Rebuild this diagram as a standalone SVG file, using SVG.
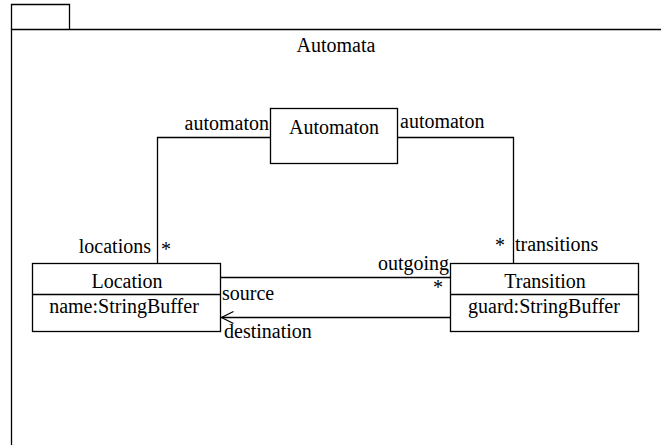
<svg xmlns="http://www.w3.org/2000/svg" width="661" height="445" viewBox="0 0 661 445">
<style>
.m{text-anchor:middle}
.e{text-anchor:end}
.box{fill:#fff;stroke:#000;stroke-width:1.3}
.ln{fill:none;stroke:#000;stroke-width:1.3}
</style>
<defs>
<marker id="open" viewBox="0 0 14 14" refX="13" refY="7" markerWidth="14" markerHeight="14" markerUnits="userSpaceOnUse" orient="auto" overflow="visible">
<path d="M1,1 L13,7 L1,13" fill="none" stroke="#000" stroke-width="1.3"/>
</marker>
</defs>
<g id="package">
<path class="ln" d="M11.5,29.5 V4.5 H69.5 V29.5"/>
<path class="ln" d="M11.5,445 V29.5 H661"/>
<text class="m" font-family="'Liberation Serif', serif" font-size="20" x="336" y="52">Automata</text>
</g>
<g id="connectors">
<path class="ln" d="M270,137.5 H157.5 V263"/>
<path class="ln" d="M398,137.5 H513.5 V263"/>
<path class="ln" d="M221,277.5 H450"/>
<path class="ln" d="M450,317.5 H221.5" marker-end="url(#open)"/>
<text class="e" font-family="'Liberation Serif', serif" font-size="20" x="269" y="130">automaton</text>
<text font-family="'Liberation Serif', serif" font-size="20" x="400" y="128">automaton</text>
<text class="e" font-family="'Liberation Serif', serif" font-size="20" x="151" y="253">locations</text>
<text font-family="'Liberation Serif', serif" font-size="20" x="161" y="256">*</text>
<text class="e" font-family="'Liberation Serif', serif" font-size="20" x="505" y="252">*</text>
<text font-family="'Liberation Serif', serif" font-size="20" x="515" y="251">transitions</text>
<text class="e" font-family="'Liberation Serif', serif" font-size="20" x="449" y="270">outgoing</text>
<text class="e" font-family="'Liberation Serif', serif" font-size="20" x="443" y="294">*</text>
<text font-family="'Liberation Serif', serif" font-size="20" x="222" y="300">source</text>
<text font-family="'Liberation Serif', serif" font-size="20" x="224" y="338">destination</text>
</g>
<g id="Automaton">
<rect class="box" x="270.5" y="108.5" width="127" height="55"/>
<text class="m" font-family="'Liberation Serif', serif" font-size="20" x="334" y="134">Automaton</text>
</g>
<g id="Location">
<rect class="box" x="32.5" y="263.5" width="188" height="68"/>
<line class="ln" x1="32.5" y1="294.5" x2="220.5" y2="294.5"/>
<text class="m" font-family="'Liberation Serif', serif" font-size="20" x="127" y="288">Location</text>
<text class="m" font-family="'Liberation Serif', serif" font-size="20" x="124" y="313">name:StringBuffer</text>
</g>
<g id="Transition">
<rect class="box" x="450.5" y="263.5" width="188" height="68"/>
<line class="ln" x1="450.5" y1="294.5" x2="638.5" y2="294.5"/>
<text class="m" font-family="'Liberation Serif', serif" font-size="20" x="545" y="288">Transition</text>
<text class="m" font-family="'Liberation Serif', serif" font-size="20" x="544" y="313">guard:StringBuffer</text>
</g>
</svg>
